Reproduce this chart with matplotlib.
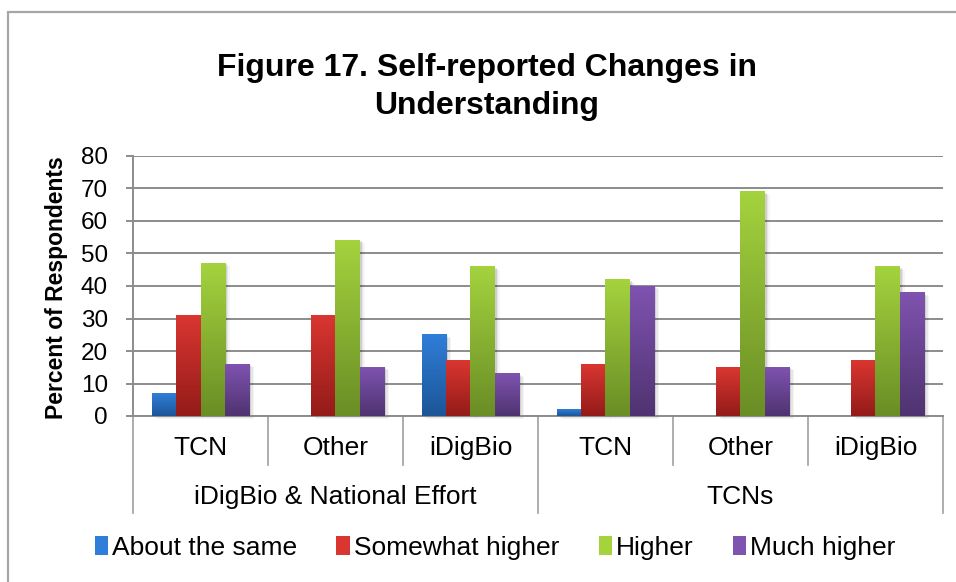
import numpy as np
import matplotlib
matplotlib.use("Agg")
import matplotlib.pyplot as plt
from matplotlib.colors import LinearSegmentedColormap
from matplotlib.patches import Rectangle
import matplotlib.transforms as mtransforms
from matplotlib.lines import Line2D

plt.rcParams['font.family'] = ['Liberation Sans', 'DejaVu Sans']

categories = ["TCN", "Other", "iDigBio", "TCN", "Other", "iDigBio"]
groups = ["iDigBio & National Effort", "TCNs"]
series_names = ["About the same", "Somewhat higher", "Higher", "Much higher"]
about_same = [7, 0, 25, 2, 0, 0]
somewhat_higher = [31, 31, 17, 16, 15, 17]
higher = [47, 54, 46, 42, 69, 46]
much_higher = [16, 15, 13, 40, 15, 38]
yticks = [0, 10, 20, 30, 40, 50, 60, 70, 80]

series = [about_same, somewhat_higher, higher, much_higher]
grad = [("#2F7ED9", "#1D5597"),
        ("#DA3631", "#931B19"),
        ("#A4D33E", "#6A8D25"),
        ("#7F53B0", "#4F3370")]

fig = plt.figure(figsize=(9.56, 5.82), dpi=100)
W, H = 956, 582
ax = fig.add_axes([133 / W, 1 - 416 / H, 810 / W, 260 / H])

# outer chart border
fig.patches.append(Rectangle((7.5 / W, -0.1), 1.2, 1 - 11.5 / H + 0.1,
                             transform=fig.transFigure, fill=False,
                             edgecolor="#a6a6a6", linewidth=1.6))

ax.set_xlim(0, len(categories))
ax.set_ylim(0, 80)

w = 0.18
offsets = (np.arange(4) - 1.5) * w
for si, vals in enumerate(series):
    cmap = LinearSegmentedColormap.from_list("g%d" % si, [grad[si][1], grad[si][0]])
    for ci, v in enumerate(vals):
        if v <= 0:
            continue
        x0 = ci + 0.5 + offsets[si] - w / 2
        # soft shadow
        for k, a in enumerate([0.10, 0.06, 0.04]):
            off = mtransforms.ScaledTranslation((2 + k * 1.5) / 100, -(1 + k) / 100,
                                                fig.dpi_scale_trans)
            ax.add_patch(Rectangle((x0, 0), w, v, facecolor="#000000", alpha=a,
                                   edgecolor="none", transform=ax.transData + off,
                                   zorder=2, clip_on=False))
        grd = np.linspace(0, 1, 256).reshape(-1, 1)
        ax.imshow(grd, cmap=cmap, origin="lower", aspect="auto",
                  extent=(x0, x0 + w, 0, v), zorder=3, interpolation="bilinear")

ax.set_xlim(0, len(categories))
ax.set_ylim(0, 80)

# grid
ax.set_yticks(yticks)
ax.yaxis.grid(True, color="#8c8c8c", linewidth=1.4)
ax.set_axisbelow(True)
for s in ["top", "right"]:
    ax.spines[s].set_visible(False)
ax.spines["left"].set_color("#8c8c8c")
ax.spines["left"].set_linewidth(1.4)
ax.spines["bottom"].set_color("#8c8c8c")
ax.spines["bottom"].set_linewidth(1.4)
ax.tick_params(axis="y", length=5, width=1.4, color="#8c8c8c", pad=13,
               labelsize=17.5, labelcolor="black")
ax.set_xticks([])

# category labels and separators
blend = mtransforms.blended_transform_factory(ax.transData, ax.transAxes)
for ci, c in enumerate(categories):
    ax.text(ci + 0.5, -0.123, c, transform=blend, ha="center", va="center",
            fontsize=19)
for b in range(len(categories) + 1):
    yb = -0.373 if b % 3 == 0 else -0.188
    ax.add_line(Line2D([b, b], [0, yb], transform=blend, color="#a0a0a0",
                       linewidth=1.2, clip_on=False))
for gi, g in enumerate(groups):
    ax.text(gi * 3 + 1.5, -0.312, g, transform=blend, ha="center", va="center",
            fontsize=19)

# title and y label
fig.text(487 / W, 1 - 87 / H, "Figure 17. Self-reported Changes in\nUnderstanding",
         ha="center", va="center", fontsize=23, fontweight="bold", linespacing=1.35)
fig.text(57 / W, 1 - 288 / H, "Percent of Respondents", rotation=90,
         ha="center", va="center", fontsize=16.5, fontweight="bold")

# legend
handles = []
for si, name in enumerate(series_names):
    handles.append(Rectangle((0, 0), 1, 1, facecolor=grad[si][0], edgecolor="none"))
leg = fig.legend(handles, series_names, loc="center", ncol=4,
                 bbox_to_anchor=(495 / W, 1 - 548 / H), frameon=False,
                 fontsize=19, handlelength=0.5, handleheight=0.75,
                 handletextpad=0.15, columnspacing=1.5, borderaxespad=0)

fig.savefig("out.png", dpi=100)
